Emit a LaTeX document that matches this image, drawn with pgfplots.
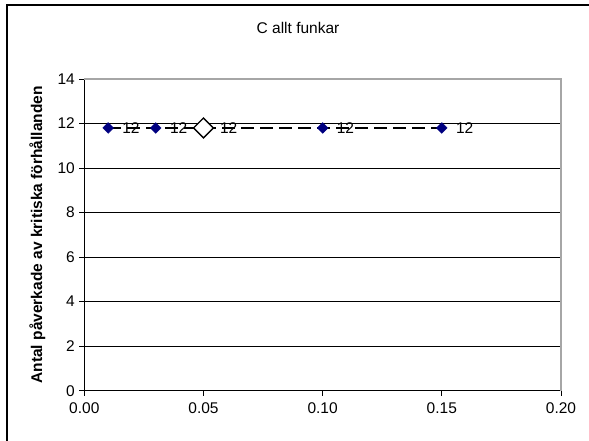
\documentclass[border=0pt]{standalone}
\usepackage{pgfplots}
\pgfplotsset{compat=1.18}
\usepackage{fontspec}
\setmainfont{Liberation Sans}
\definecolor{navyblue}{RGB}{0,0,128}
\begin{document}
\begin{tikzpicture}[x=1pt,y=1pt]
\useasboundingbox (0,0) rectangle (589,441);
\draw[line width=1.5pt] (7,-10) -- (7,436) -- (600,436);
\node[font=\fontsize{15.5}{18}\selectfont, anchor=base] at (298,407) {C allt funkar};
\begin{axis}[
  at={(84.3pt,50.3pt)}, anchor=south west,
  scale only axis, width=476.7pt, height=311.7pt,
  xmin=0, xmax=0.2, ymin=0, ymax=14,
  xtick={0,0.05,0.1,0.15,0.2},
  ytick={0,2,...,14},
  axis x line*=bottom, axis y line*=left,
  axis line style={black, line width=0.8pt, -},
  tick align=outside, major tick length=5pt,
  tick style={black, line width=0.8pt},
  ymajorgrids, grid style={black, line width=0.7pt},
  /pgf/number format/assume math mode=true,
  xticklabel style={/pgf/number format/fixed, /pgf/number format/fixed zerofill, /pgf/number format/precision=2, yshift=-3pt},
  yticklabel style={xshift=-1pt},
  ticklabel style={font=\fontsize{15.5}{18}\selectfont},
  ylabel={Antal påverkade av kritiska förhållanden},
  every axis y label/.style={at={(axis description cs:-0.0986,0.5)}, rotate=90, anchor=center},
  ylabel style={font=\bfseries\fontsize{15.5}{18}\selectfont},
  clip=false,
]
\draw[gray!70, line width=1.2pt] (rel axis cs:0,1) -- (rel axis cs:1,1) -- (rel axis cs:1,0);
\addplot[black, line width=2pt, dash pattern=on 13pt off 6pt, no marks]
  coordinates {(0.01,11.8) (0.03,11.8) (0.05,11.8) (0.10,11.8) (0.15,11.8)};
\addplot[only marks, mark=square*, mark size=3.8pt,
  mark options={rotate=45, fill=navyblue, draw=navyblue},
  point meta=explicit symbolic,
  nodes near coords,
  every node near coord/.style={anchor=west, inner sep=0pt, xshift=14pt, black, font=\fontsize{15.5}{18}\selectfont}]
  coordinates {(0.01,11.8)[12] (0.03,11.8)[12] (0.10,11.8)[12] (0.15,11.8)[12]};
\addplot[only marks, mark=square*, mark size=7pt,
  mark options={rotate=45, fill=white, draw=black, line width=1.3pt},
  point meta=explicit symbolic,
  nodes near coords,
  every node near coord/.style={anchor=west, inner sep=0pt, xshift=16pt, black, font=\fontsize{15.5}{18}\selectfont}]
  coordinates {(0.05,11.8)[12]};
\end{axis}
\end{tikzpicture}
\end{document}
